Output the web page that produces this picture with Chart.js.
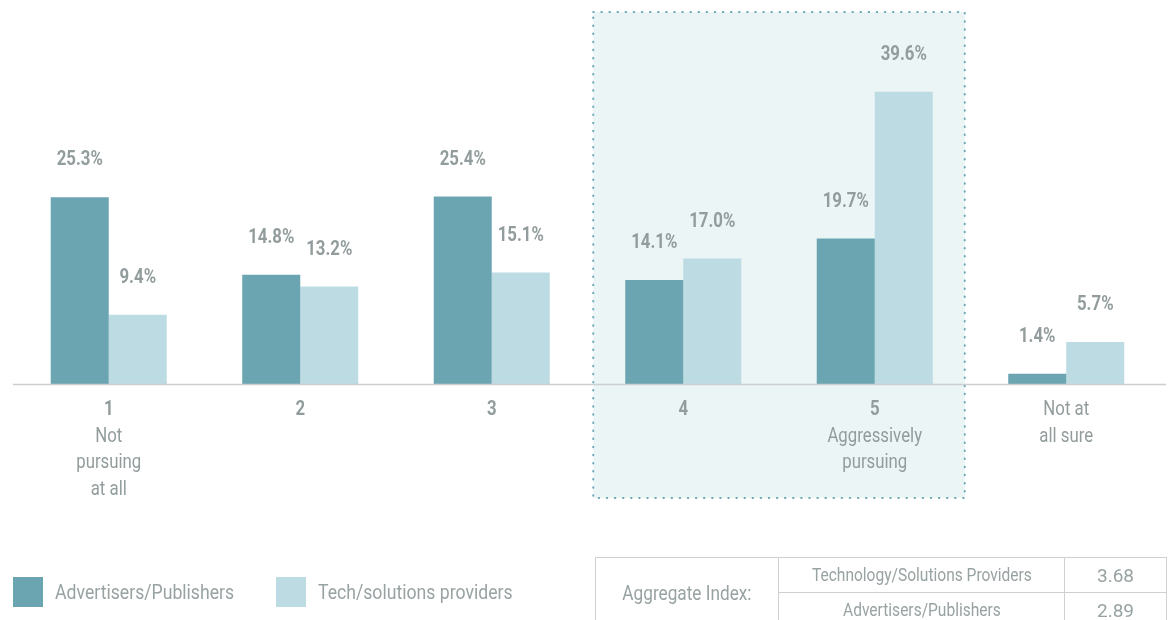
<!DOCTYPE html>
<html>
<head>
<meta charset="utf-8">
<script src="https://cdn.jsdelivr.net/npm/chart.js@4"></script>
<style>
  html, body { margin: 0; padding: 0; background: #fff; }
  body { width: 1168px; height: 620px; position: relative; overflow: hidden;
         font-family: "Roboto", sans-serif; color: #98a2a2; }
  #c { position: absolute; left: 0; top: 0; }
  .leg { position: absolute; top: 577px; height: 30px; display: flex; align-items: center; font-size: 21px; white-space: nowrap; }
  .sw { width: 30px; height: 30px; margin-right: 12px; flex: none; }
  .cond { display: inline-block; transform: scaleX(0.84); transform-origin: center; white-space: nowrap; }
  .leg .cond { transform-origin: left center; }
  table { position: absolute; left: 595px; top: 557px; width: 571px; border-collapse: collapse; font-size: 18.5px; color: #98a2a2; table-layout: fixed; }
  td { border: 1px solid #cdd1d1; text-align: center; height: 34px; padding: 0; }
</style>
</head>
<body>
<canvas id="c" width="1168" height="620"></canvas>
<div class="leg" style="left:13px"><div class="sw" style="background:#6ba5b2"></div><span class="cond">Advertisers/Publishers</span></div>
<div class="leg" style="left:276px"><div class="sw" style="background:#bddbe3"></div><span class="cond">Tech/solutions providers</span></div>
<table>
  <colgroup><col style="width:183px"><col style="width:286px"><col style="width:102px"></colgroup>
  <tr><td rowspan="2" style="font-size:20.5px"><span class="cond">Aggregate Index:</span></td><td><span class="cond">Technology/Solutions Providers</span></td><td style="font-size:19px">3.68</td></tr>
  <tr><td><span class="cond">Advertisers/Publishers</span></td><td style="font-size:19px">2.89</td></tr>
</table>
<script>
const categories = ['1', '2', '3', '4', '5', 'Not at all sure'];
const tickTitles = ['1', '2', '3', '4', '5', ''];
const tickSubtitles = [['Not', 'pursuing', 'at all'], [], [], [], ['Aggressively', 'pursuing'], ['Not at', 'all sure']];
const advertisers = [25.3, 14.8, 25.4, 14.1, 19.7, 1.4];
const tech = [9.4, 13.2, 15.1, 17.0, 39.6, 5.7];
const highlighted = [3, 4];

const FONT = '"Roboto", sans-serif';
const LABEL_COLOR = '#929c9c';
const CONDENSE = 0.84;

function condText(ctx, s, x, y) {
  ctx.save();
  ctx.translate(x, y);
  ctx.scale(CONDENSE, 1);
  ctx.fillText(s, 0, 0);
  ctx.restore();
}

const highlightPlugin = {
  id: 'highlight',
  beforeDatasetsDraw(chart) {
    const { ctx, scales: { x }, chartArea } = chart;
    const cw = x.getPixelForValue(1) - x.getPixelForValue(0);
    const l = x.getPixelForValue(highlighted[0]) - cw * 0.47;
    const r = x.getPixelForValue(highlighted[1]) + cw * 0.47;
    const t = chartArea.top - 3;
    const b = chartArea.bottom + 114;
    ctx.save();
    ctx.fillStyle = '#ebf5f6';
    ctx.fillRect(l, t, r - l, b - t);
    ctx.strokeStyle = '#6aa8b4';
    ctx.lineWidth = 2;
    ctx.lineCap = 'round';
    ctx.setLineDash([0.5, 7.6]);
    ctx.strokeRect(l, t, r - l, b - t);
    ctx.restore();
  }
};

const labelsPlugin = {
  id: 'labels',
  afterDatasetsDraw(chart) {
    const { ctx, scales: { x }, chartArea } = chart;
    ctx.save();
    ctx.strokeStyle = '#cbcfcf';
    ctx.lineWidth = 1.5;
    ctx.beginPath();
    ctx.moveTo(chartArea.left, chartArea.bottom + 0.5);
    ctx.lineTo(chartArea.right + 4, chartArea.bottom + 0.5);
    ctx.stroke();
    ctx.fillStyle = LABEL_COLOR;
    ctx.font = 'bold 20px ' + FONT;
    ctx.textAlign = 'center';
    ctx.textBaseline = 'middle';
    chart.data.datasets.forEach((ds, di) => {
      chart.getDatasetMeta(di).data.forEach((bar, i) => {
        condText(ctx, ds.data[i].toFixed(1) + '%', bar.x, bar.y - 37);
      });
    });
    categories.forEach((c, i) => {
      const cx = x.getPixelForValue(i);
      let y = chartArea.bottom + 26;
      if (tickTitles[i]) {
        ctx.font = 'bold 20px ' + FONT;
        condText(ctx, tickTitles[i], cx, y);
        y += 26.7;
      }
      ctx.font = '20px ' + FONT;
      tickSubtitles[i].forEach(s => { condText(ctx, s, cx, y); y += 26.7; });
    });
    ctx.restore();
  }
};

new Chart(document.getElementById('c'), {
  type: 'bar',
  data: {
    labels: categories,
    datasets: [
      { label: 'Advertisers/Publishers', data: advertisers, backgroundColor: '#6ba5b2' },
      { label: 'Tech/solutions providers', data: tech, backgroundColor: '#bddbe3' }
    ]
  },
  options: {
    responsive: false,
    animation: false,
    layout: { padding: { top: 15, left: 13, right: 6, bottom: 0 } },
    datasets: { bar: { barPercentage: 1, categoryPercentage: 0.606 } },
    scales: {
      x: { grid: { display: false }, border: { display: false }, ticks: { display: false },
           afterFit(s) { s.height = 236; } },
      y: { display: false, min: 0, max: 50 }
    },
    plugins: { legend: { display: false }, tooltip: { enabled: false } }
  },
  plugins: [highlightPlugin, labelsPlugin]
});
</script>
</body>
</html>
